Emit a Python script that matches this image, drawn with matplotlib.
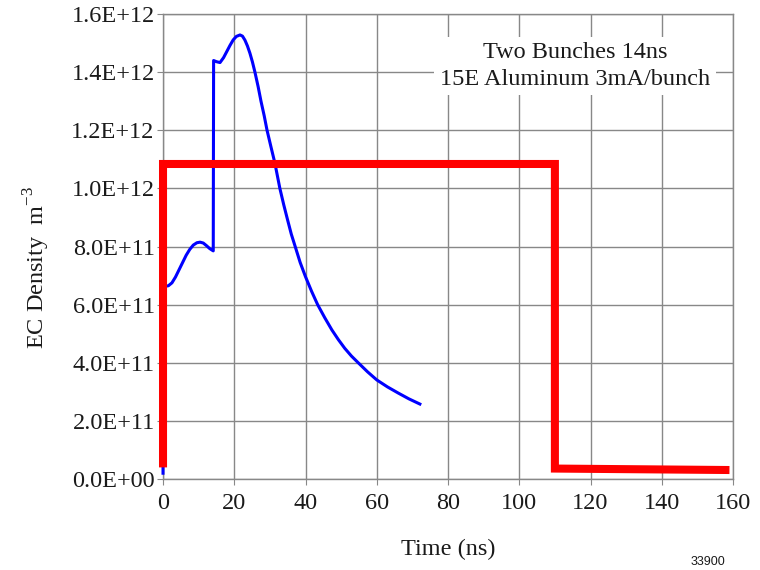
import matplotlib
matplotlib.use('Agg')
import matplotlib.pyplot as plt

# electron cloud density, blue curve (time in ns, density in 1E12 m^-3)
t_ec = [0.0, 0.0, 0.5, 1.5, 2.5, 3.5, 4.5, 5.5, 6.5, 7.5, 8.5, 9.5, 10.4,
        11.3, 12.2, 13.1, 14.1,
        14.2, 15.0, 16.0, 17.0, 17.9, 18.8, 19.7, 20.6, 21.6, 22.3, 23.0,
        23.7, 24.4, 25.1, 25.8, 26.7, 27.5, 28.4, 29.2, 30.3, 31.4, 32.8,
        33.9, 35.0, 36.0, 37.1, 38.5, 40.0, 41.7, 43.4, 45.4, 47.4, 49.2,
        51.0, 52.9, 54.8, 57.4, 60.0, 63.0, 66.0, 69.0, 72.1]
dens_ec = [0.02, 0.66, 0.663, 0.665, 0.675, 0.695, 0.72, 0.745, 0.77, 0.79,
           0.805, 0.813, 0.815, 0.812, 0.803, 0.793, 0.785,
           1.44, 1.436, 1.433, 1.45, 1.471, 1.492, 1.511, 1.523, 1.528, 1.524,
           1.51, 1.49, 1.465, 1.435, 1.40, 1.35, 1.30, 1.25, 1.20, 1.143,
           1.087, 1.0, 0.943, 0.89, 0.843, 0.80, 0.745, 0.696, 0.646, 0.60,
           0.555, 0.513, 0.48, 0.45, 0.423, 0.40, 0.369, 0.341, 0.317, 0.296,
           0.276, 0.258]

# bunch train envelope, red
t_bunch = [0.0, 0.0, 110.0, 110.0, 159.0]
dens_bunch = [0.04, 1.084, 1.084, 0.036, 0.031]

xticks = [0, 20, 40, 60, 80, 100, 120, 140, 160]
yticks = [0.0, 0.2, 0.4, 0.6, 0.8, 1.0, 1.2, 1.4, 1.6]
ylabels = ['0.0E+00', '2.0E+11', '4.0E+11', '6.0E+11', '8.0E+11',
           '1.0E+12', '1.2E+12', '1.4E+12', '1.6E+12']

plt.rcParams['font.family'] = ['Liberation Serif', 'DejaVu Serif']

fig = plt.figure(figsize=(7.6, 5.7), dpi=100)
ax = fig.add_axes([0.2145, 0.1596, 0.75, 0.8158])

ax.plot(t_ec, dens_ec, color='#0000ff', lw=2.2, zorder=3,
        solid_joinstyle='round', clip_on=False)
ax.plot(t_bunch, dens_bunch, color='#ff0000', lw=5.8, zorder=4,
        solid_joinstyle='miter', solid_capstyle='butt', clip_on=False)

ax.set_xlim(0, 160)
ax.set_ylim(0, 1.6)
ax.set_xticks(xticks)
ax.set_yticks(yticks)
ax.set_yticklabels(ylabels)
ax.grid(True, color='#888888', lw=1.0)
ax.set_axisbelow(True)
for s in ax.spines.values():
    s.set_color('#888888')
    s.set_linewidth(1.0)
ax.tick_params(colors='#888888', labelcolor='#1a1a1a', length=4,
               labelsize=17.5, pad=2)
ax.tick_params(axis='x', pad=6)

ax.set_xlabel('Time (ns)', fontsize=17.5, color='#1a1a1a', labelpad=18)
ax.set_ylabel('EC Density  m$^{\\mathregular{-3}}$', fontsize=17.5,
              color='#1a1a1a')
ax.yaxis.set_label_coords(-0.194, 0.455)

ax.text(0.723, 0.888, 'Two Bunches 14ns\n15E Aluminum 3mA/bunch',
        transform=ax.transAxes, ha='center', va='center', fontsize=17.5,
        color='#1a1a1a', linespacing=1.35,
        bbox=dict(facecolor='white', edgecolor='none', pad=4), zorder=5)

fig.text(0.932, 0.004, '33900', fontsize=9, family='Liberation Sans',
         color='#1a1a1a', ha='center', va='bottom')

fig.savefig('out.png', dpi=100)
